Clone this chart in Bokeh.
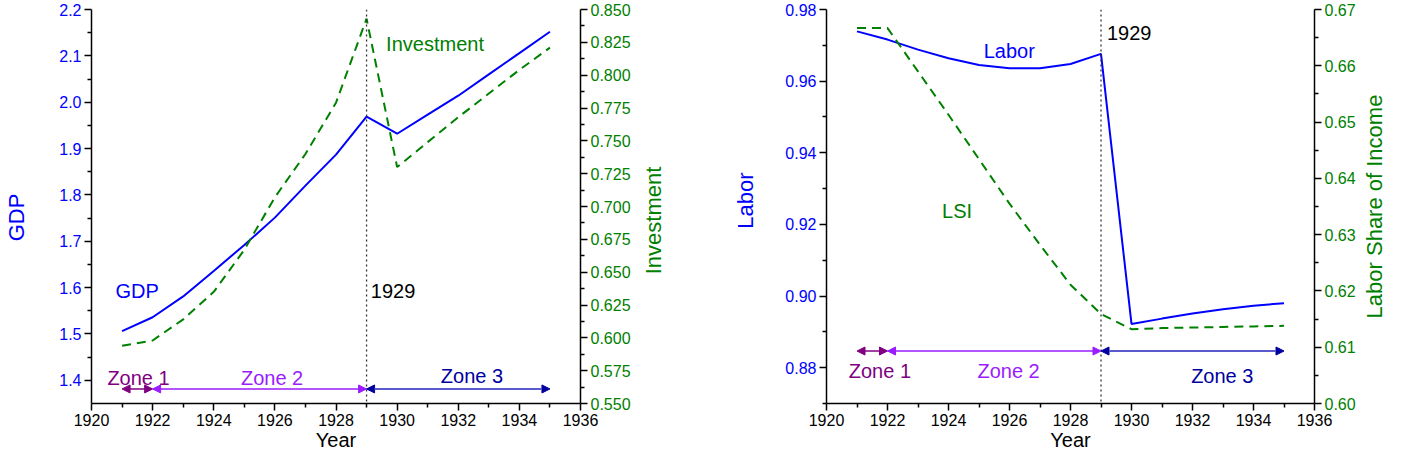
import math
import numpy as np
from bokeh.plotting import figure
from bokeh.layouts import row
from bokeh.models import (Range1d, LinearAxis, FixedTicker, NumeralTickFormatter,
                          Span, Label, Arrow, NormalHead)
from bokeh.core.properties import value
from bokeh.embed import file_html
from bokeh.resources import INLINE

# ---------------- data ----------------
years = [1921, 1922, 1923, 1924, 1925, 1926, 1927, 1928, 1929, 1930, 1931, 1932, 1933, 1934, 1935]
gdp = [1.506, 1.536, 1.581, 1.636, 1.692, 1.751, 1.820, 1.887, 1.969, 1.932, 1.973, 2.014, 2.060, 2.106, 2.152]
investment = [0.594, 0.598, 0.614, 0.635, 0.667, 0.707, 0.740, 0.779, 0.843, 0.730, 0.749, 0.768, 0.786, 0.804, 0.821]
labor = [0.9739, 0.9716, 0.9688, 0.9664, 0.9645, 0.9636, 0.9636, 0.9648, 0.9676, 0.8922, 0.8937, 0.8951, 0.8963, 0.8973, 0.8980]
lsi = [0.6667, 0.6667, 0.6590, 0.6513, 0.6434, 0.6355, 0.6282, 0.6211, 0.6159, 0.6132, 0.6134, 0.6135, 0.6136, 0.6137, 0.6138]

zone_names = ["Zone 1", "Zone 2", "Zone 3"]
zone_start = [1921, 1922, 1929]
zone_end = [1922, 1929, 1935]
zone_colors = ["#800080", "#9a1cff", "#00009f"]
zone_line_colors = ["#800080", "#9a1cff", "#5a5acc"]
crisis_year = 1929

year_ticks = [1920, 1922, 1924, 1926, 1928, 1930, 1932, 1934, 1936]
gdp_ticks = [1.4, 1.5, 1.6, 1.7, 1.8, 1.9, 2.0, 2.1, 2.2]
inv_ticks = [0.550, 0.575, 0.600, 0.625, 0.650, 0.675, 0.700, 0.725, 0.750, 0.775, 0.800, 0.825, 0.850]
labor_ticks = [0.88, 0.90, 0.92, 0.94, 0.96, 0.98]
lsi_ticks = [0.60, 0.61, 0.62, 0.63, 0.64, 0.65, 0.66, 0.67]

FONT = "Liberation Sans"
BLUE = "#0000ff"
GREEN = "#008000"
EPS = 1e-9
H = 454
TOP = 9
FRAME_H = 394
BOTTOM = H - TOP - FRAME_H


def minors(ticks, lo):
    t = np.array(ticks, dtype=float)
    step = t[1] - t[0]
    m = list(t[:-1] + step / 2)
    if t[0] - step / 2 >= lo - EPS:
        m = [t[0] - step / 2] + m
    return [float(v) for v in m]


def style_axis(ax, color, fmt, ticks, lo, label=None, standoff=0, label_standoff=3):
    ax.ticker = FixedTicker(ticks=ticks, minor_ticks=minors(ticks, lo))
    ax.formatter = NumeralTickFormatter(format=fmt)
    if label:
        ax.axis_label = label
        ax.axis_label_text_font = FONT
        ax.axis_label_text_font_size = "20px"
        ax.axis_label_text_font_style = "normal"
        ax.axis_label_text_color = color
        ax.axis_label_standoff = standoff
    ax.major_label_text_font = FONT
    ax.major_label_text_font_size = "16px"
    ax.major_label_text_color = color
    ax.major_label_standoff = label_standoff
    ax.axis_line_color = "black"
    ax.axis_line_width = 1.5
    ax.major_tick_line_color = "black"
    ax.minor_tick_line_color = "black"
    ax.major_tick_line_width = 1.5
    ax.minor_tick_line_width = 1.5
    ax.major_tick_out = 7
    ax.major_tick_in = 0
    ax.minor_tick_out = 4
    ax.minor_tick_in = 0


def make_fig(y_lo, y_hi, r_lo, r_hi, border_left, frame_w, border_right):
    p = figure(width=border_left + frame_w + border_right, height=H,
               x_range=Range1d(1920, 1936 + EPS), y_range=Range1d(y_lo, y_hi + EPS),
               output_backend="svg", toolbar_location=None,
               min_border_left=border_left, min_border_right=border_right,
               min_border_top=TOP, min_border_bottom=BOTTOM)
    p.extra_y_ranges = {"right": Range1d(r_lo, r_hi + EPS)}
    p.outline_line_color = None
    p.xgrid.visible = False
    p.ygrid.visible = False
    p.background_fill_color = "white"
    p.border_fill_color = "white"
    return p


def title_strip(width, items):
    """Narrow figure holding rotated axis titles.
    Its frame is aligned with the panels' frames; y is given in px from the figure top."""
    t = figure(width=width, height=H, x_range=Range1d(0, width),
               y_range=Range1d(TOP + FRAME_H, TOP),
               output_backend="svg", toolbar_location=None, x_axis_type=None, y_axis_type=None,
               min_border_left=0, min_border_right=0,
               min_border_top=TOP, min_border_bottom=BOTTOM)
    t.outline_line_color = None
    t.xgrid.visible = False
    t.ygrid.visible = False
    for x, y, text, color in items:
        t.text(x=[x], y=[y], text=[text], angle=math.pi / 2, text_align="center",
               text_baseline="middle", text_font=value(FONT), text_font_size=value("22px"),
               text_color=color)
    return t


def add_label(p, x, y, text, color):
    p.add_layout(Label(x=x, y=y, text=text, text_font=FONT, text_font_size="20px",
                       text_color=color, text_baseline="alphabetic", text_align="left"))


def add_zones(p, y, text_pos):
    for i in range(3):
        p.add_layout(Arrow(
            start=NormalHead(size=8, fill_color=zone_colors[i], line_color=zone_colors[i]),
            end=NormalHead(size=8, fill_color=zone_colors[i], line_color=zone_colors[i]),
            x_start=zone_start[i], y_start=y, x_end=zone_end[i], y_end=y,
            line_color=zone_line_colors[i], line_width=1.5 if i < 2 else 2))
        tx, ty = text_pos[i]
        add_label(p, tx, ty, zone_names[i], zone_colors[i])


# ---------------- left panel ----------------
p1 = make_fig(1.35, 2.2, 0.55, 0.85, 55, 489, 55)
p1.line(years, gdp, line_color=BLUE, line_width=2)
p1.line(years, investment, line_color=GREEN, line_width=2, line_dash="9 6", y_range_name="right")
p1.add_layout(Span(location=crisis_year, dimension="height", line_color="#333333",
                   line_dash="2 3", line_width=1.3))
ax_r1 = LinearAxis(y_range_name="right")
p1.add_layout(ax_r1, "right")
style_axis(p1.xaxis[0], "black", "0", year_ticks, 1920, label="Year", standoff=0, label_standoff=3)
style_axis(p1.yaxis[0], BLUE, "0.0", gdp_ticks, 1.35)
style_axis(ax_r1, GREEN, "0.000", inv_ticks, 0.55)

add_label(p1, 1929.64, 2.125, "Investment", GREEN)
add_label(p1, 1920.785, 1.5924, "GDP", BLUE)
add_label(p1, 1929.14, 1.5924, "1929", "black")
add_zones(p1, 1.3814, [(1920.52, 1.4045), (1924.89, 1.4045), (1931.43, 1.4095)])

# ---------------- right panel ----------------
p2 = make_fig(0.87, 0.98, 0.60, 0.67, 50, 488, 45)
p2.line(years, labor, line_color=BLUE, line_width=2)
p2.line(years, lsi, line_color=GREEN, line_width=2, line_dash="9 6", y_range_name="right")
p2.add_layout(Span(location=crisis_year, dimension="height", line_color="#333333",
                   line_dash="2 3", line_width=1.3))
ax_r2 = LinearAxis(y_range_name="right")
p2.add_layout(ax_r2, "right")
style_axis(p2.xaxis[0], "black", "0", year_ticks, 1920, label="Year", standoff=0, label_standoff=3)
style_axis(p2.yaxis[0], BLUE, "0.00", labor_ticks, 0.87)
style_axis(ax_r2, GREEN, "0.00", lsi_ticks, 0.60)

add_label(p2, 1925.155, 0.9685, "Labor", BLUE)
add_label(p2, 1923.79, 0.92373, "LSI", GREEN)
add_label(p2, 1929.194, 0.9734, "1929", "black")
add_zones(p2, 0.88465, [(1920.73, 0.87908), (1924.95, 0.87908), (1931.955, 0.87769)])

# ---------------- axis-title strips (x px from strip left, y px from figure top) ----------------
t0 = title_strip(36, [(15.5, 217, "GDP", BLUE)])
t1 = title_strip(141, [(18, 220, "Investment", GREEN), (110, 200, "Labor", BLUE)])
t2 = title_strip(29, [(15, 206, "Labor Share of Income", GREEN)])

layout = row(t0, p1, t1, p2, t2)
open("out.html", "w").write(file_html(layout, INLINE))
